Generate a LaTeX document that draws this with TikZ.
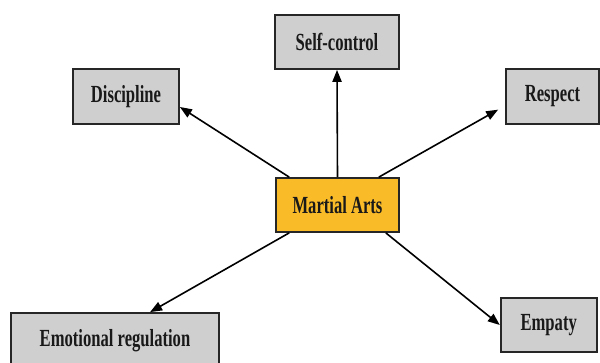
\documentclass[tikz,border=0pt]{standalone}
\usepackage{fontspec}
\setmainfont[FakeStretch=0.675]{Liberation Serif}
\usetikzlibrary{arrows.meta}
\definecolor{artsgold}{RGB}{250,187,40}
\definecolor{traitgray}{RGB}{207,207,207}
\begin{document}
\begin{tikzpicture}[x=0.5pt,y=-0.5pt,
  trait/.style={draw=black!85,line width=0.9pt,fill=traitgray,inner sep=0pt,
    font=\fontsize{12.3}{14}\selectfont\bfseries,text=black!90},
  core/.style={trait,fill=artsgold},
  link/.style={-{Triangle[length=6pt,width=4.6pt]},line width=0.8pt}]
\useasboundingbox (0,0) rectangle (600,363);
\clip (0,0) rectangle (600,363);
\node[core,minimum width=61.5pt,minimum height=27pt] (ma) at (337.5,205) {Martial Arts};
\node[trait,minimum width=62pt,minimum height=27pt] (sc) at (337,42) {Self-control};
\node[trait,minimum width=53pt,minimum height=27.5pt] (dis) at (126,96.5) {Discipline};
\node[trait,minimum width=46.5pt,minimum height=27.5pt] (res) at (552.5,96.5) {Respect};
\node[trait,minimum width=104pt,minimum height=27.5pt] (emo) at (115,340.5) {Emotional regulation};
\node[trait,minimum width=48pt,minimum height=27pt] (emp) at (548.7,325) {Empaty};
\draw[link] (ma.north) -- (sc.south);
\draw[link] (ma.150) -- (dis.-11);
\draw[link,shorten >=4pt] (ma.34) -- (res.-169);
\draw[link] (ma.-150) -- (emo.39);
\draw[link] (ma.-30) -- (emp.west);
\end{tikzpicture}
\end{document}
